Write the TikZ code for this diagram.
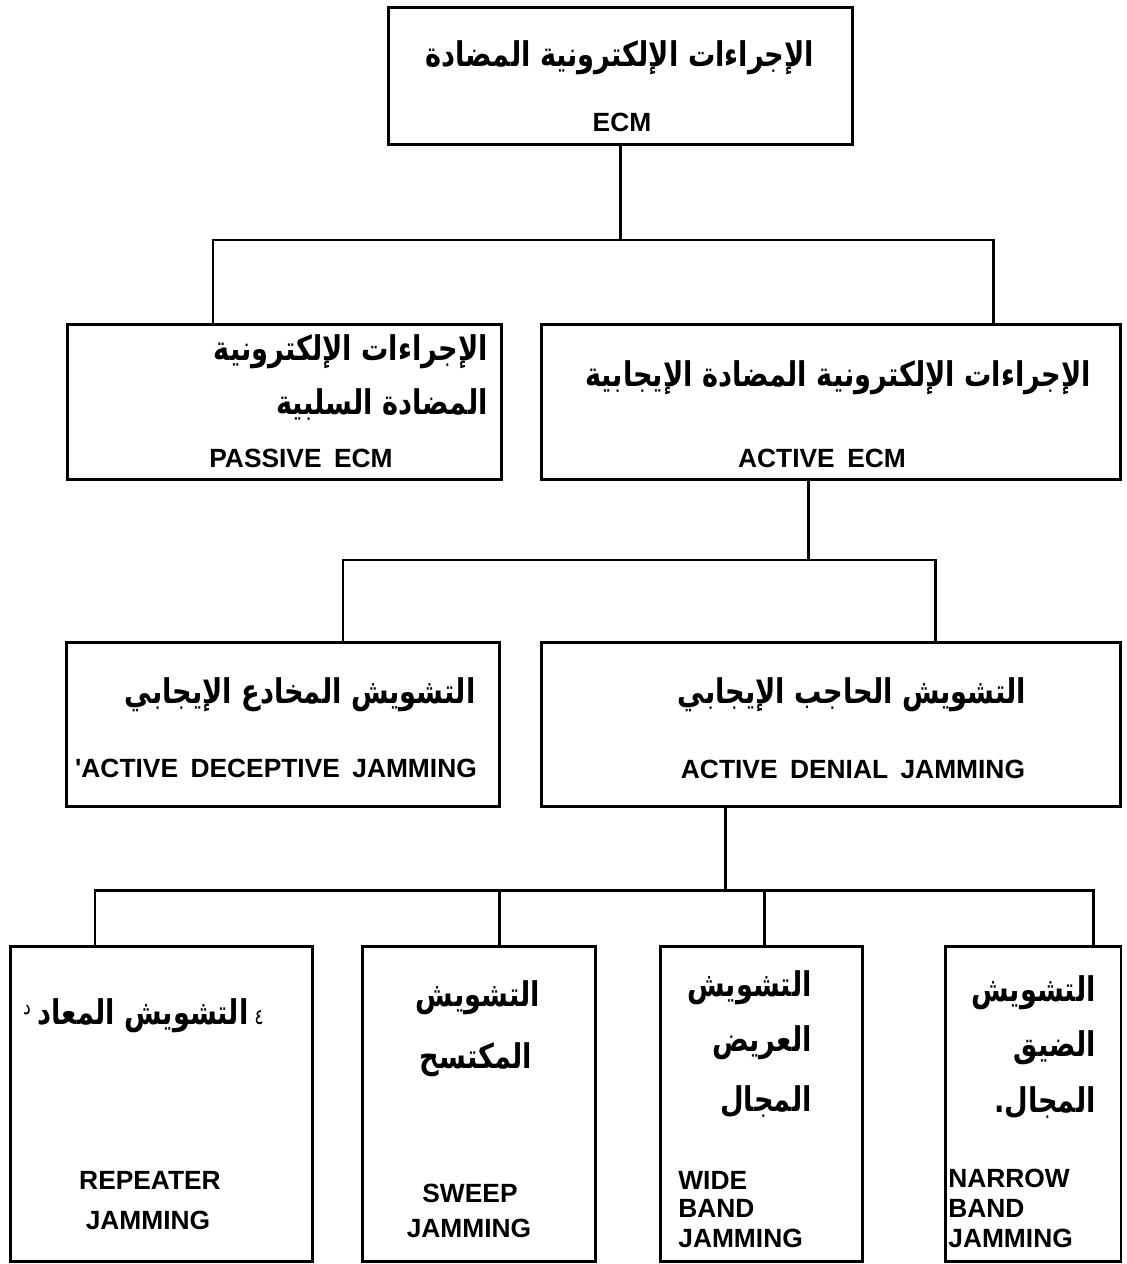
\documentclass[tikz,border=0pt]{standalone}
\usepackage{fontspec}
\usepackage{graphicx}
\TeXXeTstate=1
\newfontfamily\enfont[WordSpace=1.7]{Liberation Sans}
\newfontfamily\arabicfont[Script=Arabic]{DejaVu Sans}
% Arabic lines run right to left and are drawn a little taller than the font
\newcommand{\artxt}[1]{\scalebox{1}[1.25]{\beginR #1\endR}}
\begin{document}
\begin{tikzpicture}[x=0.02cm,y=-0.02cm,
  box/.style={draw, line width=1.7pt, inner sep=0pt},
  link/.style={line width=1.7pt},
  lab/.style={font=\enfont\bfseries\fontsize{15}{18}\selectfont, inner sep=0pt},
  arl/.style={font=\arabicfont\bfseries\fontsize{15.5}{20}\selectfont, inner sep=0pt},
  speck/.style={font=\arabicfont\fontsize{10}{12}\selectfont, inner sep=0pt}]
\useasboundingbox (0,0) rectangle (1126,1264);

% boxes
\node[box, minimum width=9.30cm, minimum height=2.76cm] (ecm) at (620.5,76) {};
\node[box, minimum width=8.70cm, minimum height=3.12cm] (passive) at (284.5,402) {};
\node[box, minimum width=11.60cm, minimum height=3.12cm] (active) at (831,402) {};
\node[box, minimum width=8.68cm, minimum height=3.30cm] (decep) at (283,724.5) {};
\node[box, minimum width=11.60cm, minimum height=3.30cm] (denial) at (831,724.5) {};
\node[box, minimum width=6.06cm, minimum height=6.32cm] (repeat) at (161.5,1104) {};
\node[box, minimum width=4.68cm, minimum height=6.32cm] (sweep) at (479,1104) {};
\node[box, minimum width=4.06cm, minimum height=6.32cm] (wide) at (761.5,1104) {};
\node[box, minimum width=3.52cm, minimum height=6.32cm] (narrow) at (1033,1104) {};

% bus coordinates
\coordinate (b1L) at (213,240);
\coordinate (b1R) at (993,240);
\coordinate (b2M) at (808,560);
\coordinate (b2L) at (343,560);
\coordinate (b2R) at (935,560);
\coordinate (b3M) at (725,890);
\coordinate (b3A) at (95,890);
\coordinate (b3B) at (499,890);
\coordinate (b3C) at (764,890);
\coordinate (b3D) at (1093,890);

% connectors
\draw[link] (ecm.south) -- (ecm.south |- b1L);
\draw[link] (passive.north -| b1L) -- (b1L) -- (b1R) -- (active.north -| b1R);
\draw[link] (active.south -| b2M) -- (b2M);
\draw[link] (decep.north -| b2L) -- (b2L) -- (b2R) -- (denial.north -| b2R);
\draw[link] (denial.south -| b3M) -- (b3M);
\draw[link] (repeat.north -| b3A) -- (b3A) -- (b3D) -- (narrow.north -| b3D);
\draw[link] (b3B) -- (sweep.north -| b3B);
\draw[link] (b3C) -- (wide.north -| b3C);

% top
\node[arl] (t1) at (620,58) {\artxt{الإجراءات الإلكترونية المضادة}};
\node[lab] (t2) at (622,122) {ECM};

% passive
\node[arl, anchor=east] (p1) at (488,352) {\artxt{الإجراءات الإلكترونية}};
\node[arl, anchor=east] (p2) at (488,405) {\artxt{المضادة السلبية}};
\node[lab] (p3) at (301,458) {PASSIVE ECM};

% active
\node[arl] (a1) at (838,378) {\artxt{الإجراءات الإلكترونية المضادة الإيجابية}};
\node[lab] (a2) at (822,458) {ACTIVE ECM};

% deceptive
\node[arl] (d1) at (300,695) {\artxt{التشويش المخادع الإيجابي}};
\node[lab] (d2) at (276,768) {'ACTIVE DECEPTIVE JAMMING};

% denial
\node[arl] (n1) at (852,695) {\artxt{التشويش الحاجب الإيجابي}};
\node[lab] (n2) at (853,769) {ACTIVE DENIAL JAMMING};

% repeater
\node[arl] (r1) at (143,1016) {\artxt{التشويش المعاد}};
\node[speck] (r0) at (27,1010) {\artxt{د}};
\node[speck] (r9) at (259,1018) {\artxt{٤}};
\node[lab] (r2) at (150,1180) {REPEATER};
\node[lab] (r3) at (148,1220) {JAMMING};

% sweep
\node[arl] (s1) at (478,998) {\artxt{التشويش}};
\node[arl] (s2) at (476,1060) {\artxt{المكتسح}};
\node[lab] (s3) at (470,1193) {SWEEP};
\node[lab] (s4) at (469,1228) {JAMMING};

% wide band
\node[arl, anchor=east] (w1) at (812,988) {\artxt{التشويش}};
\node[arl, anchor=east] (w2) at (812,1043) {\artxt{العريض}};
\node[arl, anchor=east] (w3) at (812,1102) {\artxt{المجال}};
\node[lab, anchor=west] (w4) at (678,1180) {WIDE};
\node[lab, anchor=west] (w5) at (678,1208) {BAND};
\node[lab, anchor=west] (w6) at (678,1238) {JAMMING};

% narrow band
\node[arl, anchor=east] (m1) at (1096,993) {\artxt{التشويش}};
\node[arl, anchor=east] (m2) at (1096,1048) {\artxt{الضيق}};
\node[arl, anchor=east] (m3) at (1096,1103) {\artxt{المجال.}};
\node[lab, anchor=west] (m4) at (948,1178) {NARROW};
\node[lab, anchor=west] (m5) at (948,1208) {BAND};
\node[lab, anchor=west] (m6) at (948,1238) {JAMMING};
\end{tikzpicture}
\end{document}
